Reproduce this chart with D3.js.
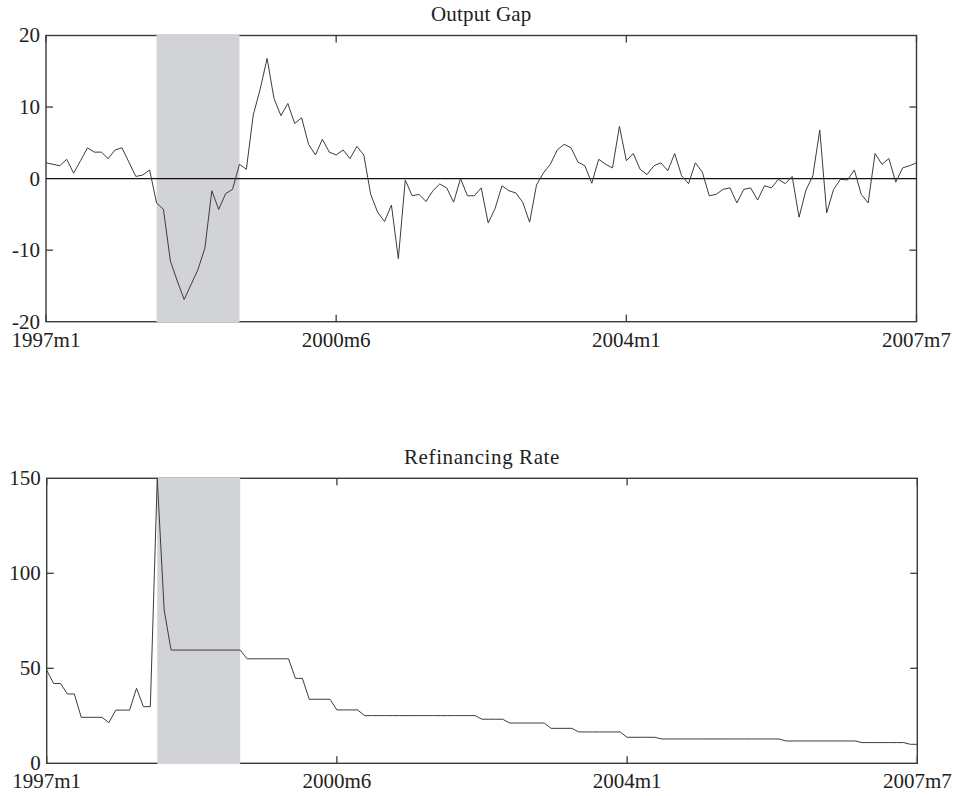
<!DOCTYPE html>
<html>
<head>
<meta charset="utf-8">
<script src="https://cdn.jsdelivr.net/npm/d3@7"></script>
<style>
  html, body { margin: 0; padding: 0; background: #fff; }
</style>
</head>
<body>
<svg id="chart" width="955" height="796"></svg>
<script>
// ---- data ----
const xTickValues = [0, 42, 84, 126];
const xTickLabels = ["1997m1", "2000m6", "2004m1", "2007m7"];
const shadeRange = [16, 28];

const outputGap = [
  2.2, 2.0, 1.8, 2.7, 0.75, 2.5, 4.3, 3.7, 3.7, 2.8,
  4.0, 4.3, 2.3, 0.3, 0.5, 1.2, -3.4, -4.3, -11.5, -14.3,
  -16.9, -14.8, -12.7, -9.7, -1.7, -4.3, -2.1, -1.5, 2.0, 1.3,
  8.9, 12.5, 16.8, 11.2, 8.8, 10.5, 7.7, 8.5, 4.8, 3.3,
  5.5, 3.7, 3.3, 4.0, 2.8, 4.5, 3.3, -2.2, -4.7, -6.0,
  -3.7, -11.2, -0.2, -2.4, -2.2, -3.2, -1.7, -0.75, -1.3, -3.3,
  0.0, -2.4, -2.4, -1.3, -6.2, -4.2, -1.0, -1.7, -2.0, -3.3,
  -6.1, -0.9, 0.8, 2.0, 4.0, 4.8, 4.3, 2.3, 1.8, -0.65,
  2.7, 2.0, 1.5, 7.3, 2.5, 3.5, 1.3, 0.56, 1.8, 2.2,
  1.1, 3.5, 0.4, -0.7, 2.2, 0.9, -2.4, -2.2, -1.5, -1.3,
  -3.4, -1.5, -1.3, -3.0, -1.0, -1.3, -0.1, -0.7, 0.3, -5.4,
  -1.6, 0.4, 6.8, -4.8, -1.5, -0.1, -0.2, 1.2, -2.2, -3.4,
  3.5, 2.0, 2.8, -0.5, 1.5, 1.8, 2.2
];

const refiRate = [
  49, 42, 42, 36.5, 36.5, 24.2, 24.2, 24.2, 24.2, 21.4,
  28, 28, 28, 39.5, 29.8, 29.8, 150, 80.7, 59.6, 59.6,
  59.6, 59.6, 59.6, 59.6, 59.6, 59.6, 59.6, 59.6, 59.6, 55,
  55, 55, 55, 55, 55, 55, 44.7, 44.7, 33.7, 33.7,
  33.7, 33.7, 28.1, 28.1, 28.1, 28.1, 25.1, 25.1, 25.1, 25.1,
  25.1, 25.1, 25.1, 25.1, 25.1, 25.1, 25.1, 25.1, 25.1, 25.1,
  25.1, 25.1, 25.1, 23.2, 23.2, 23.2, 23.2, 21.2, 21.2, 21.2,
  21.2, 21.2, 21.2, 18.4, 18.4, 18.4, 18.4, 16.5, 16.5, 16.5,
  16.5, 16.5, 16.5, 16.5, 13.7, 13.7, 13.7, 13.7, 13.7, 12.8,
  12.8, 12.8, 12.8, 12.8, 12.8, 12.8, 12.8, 12.8, 12.8, 12.8,
  12.8, 12.8, 12.8, 12.8, 12.8, 12.8, 12.8, 11.75, 11.75, 11.75,
  11.75, 11.75, 11.75, 11.75, 11.75, 11.75, 11.75, 11.75, 10.9, 10.9,
  10.9, 10.9, 10.9, 10.9, 10.9, 10.0, 10.0
];

const panels = [
  { title: "Output Gap", values: outputGap, yDomain: [-20, 20],
    yLabels: [-20, -10, 0, 10, 20], yInner: [-10, 10], zero: true,
    top: 35.5, bottom: 321.7, left: 46, right: 916.5 },
  { title: "Refinancing Rate", values: refiRate, yDomain: [0, 150],
    yLabels: [0, 50, 100, 150], yInner: [50, 100], zero: false,
    top: 478.3, bottom: 763.3, left: 46.7, right: 917.3 }
];

const svg = d3.select("#chart");
const FONT = "'Liberation Serif', 'Times New Roman', 'DejaVu Serif', serif";
const fontSize = 21;
const tickLen = 7;
const frameColor = "#3a3a3a";

panels.forEach(p => {
  const x = d3.scaleLinear().domain([0, 126]).range([p.left, p.right]);
  const y = d3.scaleLinear().domain(p.yDomain).range([p.bottom, p.top]);
  const g = svg.append("g");

  // frame
  g.append("rect")
    .attr("x", p.left).attr("y", p.top)
    .attr("width", p.right - p.left).attr("height", p.bottom - p.top)
    .attr("fill", "none").attr("stroke", frameColor).attr("stroke-width", 1.4);

  // inner ticks: left/right
  const yT = g.append("g").attr("stroke", frameColor).attr("stroke-width", 1.3);
  p.yInner.forEach(v => {
    yT.append("line").attr("x1", p.left).attr("x2", p.left + tickLen)
      .attr("y1", y(v)).attr("y2", y(v));
    yT.append("line").attr("x1", p.right).attr("x2", p.right - tickLen)
      .attr("y1", y(v)).attr("y2", y(v));
  });
  // inner ticks: top/bottom
  xTickValues.forEach(v => {
    yT.append("line").attr("x1", x(v)).attr("x2", x(v))
      .attr("y1", p.top).attr("y2", p.top + tickLen);
    yT.append("line").attr("x1", x(v)).attr("x2", x(v))
      .attr("y1", p.bottom).attr("y2", p.bottom - tickLen);
  });

  // shading
  g.append("rect")
    .attr("x", x(shadeRange[0])).attr("y", p.top - 0.8)
    .attr("width", x(shadeRange[1]) - x(shadeRange[0]))
    .attr("height", p.bottom - p.top + 1.6)
    .attr("fill", "#d2d3d6");

  // zero line
  if (p.zero) {
    g.append("line").attr("x1", p.left).attr("x2", p.right)
      .attr("y1", y(0)).attr("y2", y(0))
      .attr("stroke", "#111").attr("stroke-width", 1.2);
  }

  // data line
  const line = d3.line().x((d, i) => x(i)).y(d => y(d));
  g.append("path").datum(p.values)
    .attr("d", line)
    .attr("fill", "none").attr("stroke", "#3c3c3c").attr("stroke-width", 1);

  // y labels
  p.yLabels.forEach(v => {
    g.append("text").attr("x", p.left - 6).attr("y", y(v))
      .attr("dy", "0.33em").attr("text-anchor", "end")
      .attr("font-family", FONT).attr("fill", "#222")
      .attr("font-size", fontSize).text(v);
  });
  // x labels
  xTickValues.forEach((v, i) => {
    g.append("text").attr("x", x(v)).attr("y", p.bottom + 25)
      .attr("text-anchor", "middle").attr("font-size", fontSize)
      .attr("font-family", FONT).attr("fill", "#222")
      .text(xTickLabels[i]);
  });
  // title
  g.append("text").attr("x", (p.left + p.right) / 2).attr("y", p.top - 14.5)
    .attr("text-anchor", "middle").attr("font-size", fontSize)
    .attr("font-family", FONT).attr("fill", "#222")
    .attr("letter-spacing", p.title === "Refinancing Rate" ? 0.6 : 0.2)
    .text(p.title);
});
</script>
</body>
</html>
